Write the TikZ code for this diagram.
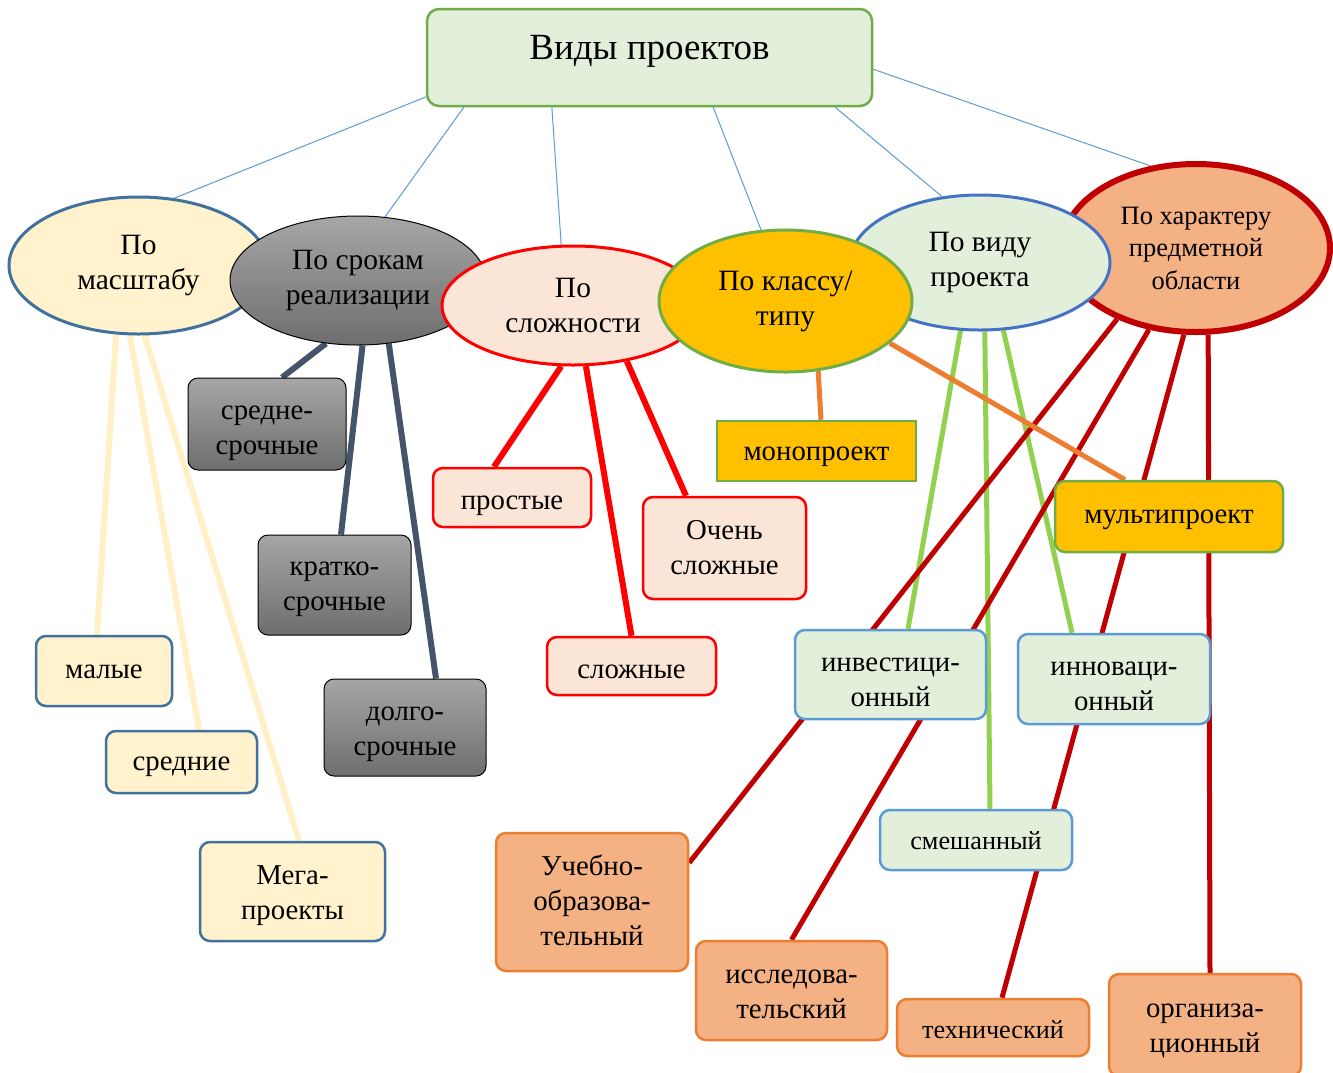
\documentclass[tikz,border=0pt]{standalone}
\usepackage{fontspec}
\setmainfont{Liberation Serif}
\usetikzlibrary{shapes.geometric,calc}
\pgfdeclarelayer{bg}
\pgfsetlayers{bg,main}
\definecolor{tgreenF}{HTML}{E2EFDA}
\definecolor{tgreenD}{HTML}{70AD47}
\definecolor{ylwF}{HTML}{FFF2CC}
\definecolor{ylwLine}{HTML}{FFF0C6}
\definecolor{steel}{HTML}{41719C}
\definecolor{slate}{HTML}{44546A}
\definecolor{grTop}{HTML}{A6A6A6}
\definecolor{grBot}{HTML}{6E6E6E}
\definecolor{pinkF}{HTML}{FBE5D6}
\definecolor{redD}{HTML}{FF0000}
\definecolor{goldF}{HTML}{FFC000}
\definecolor{orgD}{HTML}{ED7D31}
\definecolor{blueD}{HTML}{4472C4}
\definecolor{blueL}{HTML}{5B9BD5}
\definecolor{greenL}{HTML}{92D050}
\definecolor{salF}{HTML}{F4B183}
\definecolor{dred}{HTML}{C00000}
\newcommand\su[1]{\rule{0pt}{#1pt}}
\newcommand\txtdn{\rule[-0.2em]{0pt}{0pt}}
\begin{document}
\begin{tikzpicture}[x=1pt,y=-1pt,
  ell/.style={ellipse, align=center, inner sep=0pt, font=\fontsize{29.5}{35}\selectfont},
  box/.style={rectangle, rounded corners=10pt, align=center, inner sep=0pt, font=\fontsize{28.8}{35}\selectfont, line width=2.5pt,
    execute at end node=\txtdn},
  ybox/.style={box, draw=steel, fill=ylwF},
  gbox/.style={box, draw=black, line width=1pt, top color=grTop, bottom color=grBot},
  pbox/.style={box, draw=redD, fill=pinkF},
  obox/.style={box, draw=tgreenD, fill=goldF},
  vbox/.style={box, draw=blueL, fill=tgreenF},
  sbox/.style={box, draw=orgD, fill=salF},
  tline/.style={draw=blueL, line width=1pt},
  yline/.style={draw=ylwLine, line width=6pt},
  gline/.style={draw=slate, line width=6pt},
  rline/.style={draw=redD, line width=6pt},
  oline/.style={draw=orgD, line width=5pt},
  vline/.style={draw=greenL, line width=5pt},
  dline/.style={draw=dred, line width=5pt}]
\useasboundingbox (0,0) rectangle (1333,1072);

% title
\node[rectangle, rounded corners=12pt, draw=tgreenD, fill=tgreenF, line width=2.5pt,
  minimum width=445, minimum height=97, inner sep=0pt, text depth=20pt,
  font=\fontsize{37}{42}\selectfont] (t) at (649.5,57.5) {Виды проектов};

% ellipses (drawing order matters)
\node[ell, draw=steel, fill=ylwF, line width=3pt, minimum width=259, minimum height=137] (e1) at (138.5,265.5) {По\\масштабу};
\node[ell, draw=black, line width=1pt, top color=grTop, bottom color=grBot, minimum width=256, minimum height=129] (e2) at (358,280.5) {По срокам\\реализации};
\node[ell, draw=redD, fill=pinkF, line width=3pt, minimum width=262, minimum height=119] (e3) at (573,305.5) {По\\сложности};
\node[ell, draw=dred, fill=salF, line width=6pt, minimum width=268, minimum height=168, font=\fontsize{26.5}{32.5}\selectfont] (e6) at (1196,248) {По характеру\\предметной\\области};
\node[ell, draw=blueD, fill=tgreenF, line width=3pt, minimum width=260, minimum height=135] (e5) at (980,262.5) {По виду\\проекта};
\node[ell, draw=tgreenD, fill=goldF, line width=3pt, minimum width=253, minimum height=142] (e4) at (785.5,301) {По классу/\\типу};

% boxes
\node[ybox, minimum width=136, minimum height=70] (malye) at (104,671) {\su{20}малые};
\node[ybox, minimum width=151, minimum height=62] (sred) at (181.5,762) {\su{24}средние};
\node[ybox, minimum width=185, minimum height=99] (mega) at (292.5,891.5) {\su{27}Мега-\\проекты};

\node[gbox, minimum width=158, minimum height=92] (ss) at (267,424) {\su{33}средне-\\срочные};
\node[gbox, minimum width=153, minimum height=100] (ks) at (334.5,585) {\su{23}кратко-\\срочные};
\node[gbox, minimum width=162, minimum height=97] (ds) at (405,727.5) {\su{27}долго-\\срочные};

\node[pbox, minimum width=158, minimum height=59] (pr) at (512,497.5) {\su{30}простые};
\node[pbox, minimum width=163, minimum height=102] (os) at (724.5,548) {\su{23}Очень\\сложные};
\node[pbox, minimum width=169, minimum height=58] (sl) at (631.5,666) {\su{30}сложные};

\node[obox, rounded corners=0pt, minimum width=199, minimum height=60] (mono) at (816.5,451) {\su{26}монопроект};
\node[obox, minimum width=228, minimum height=71] (multi) at (1169,516.5) {\su{20}мультипроект};

\node[vbox, minimum width=191, minimum height=89] (inv) at (890.5,674.5) {\su{35}инвестици-\\онный};
\node[vbox, minimum width=192, minimum height=90] (inn) at (1114,679) {\su{33}инноваци-\\онный};
\node[vbox, minimum width=192, minimum height=60, font=\fontsize{26.2}{32}\selectfont] (sm) at (976,840) {\su{23.5}смешанный};

\node[sbox, minimum width=192, minimum height=138] (uch) at (592,902) {\su{23}Учебно-\\образова-\\тельный};
\node[sbox, minimum width=191, minimum height=99] (iss) at (791.5,990.5) {\su{27}исследова-\\тельский};
\node[sbox, minimum width=192, minimum height=57, font=\fontsize{26.2}{32}\selectfont] (tech) at (993,1027.5) {\su{27.5}технический};
\node[sbox, minimum width=192, minimum height=102] (org) at (1205,1025) {\su{25}организа-\\ционный};

\begin{pgfonlayer}{bg}
  \fill[white] (0,0) rectangle (1333,1072);
  \draw[tline] (t.190) -- (e1.62);
  \draw[tline] (t.195) -- (e2.67);
  \draw[tline] (t.207) -- (e3.101);
  \draw[tline] (t.322) -- (e4.109);
  \draw[tline] (t.345) -- (e5.120);
  \draw[tline] (t.357) -- (e6.119);

  \draw[yline] (e1.252) -- ($(malye.north)+(-7,0)$);
  \draw[yline] (e1.263) -- ($(sred.north)+(17.5,0)$);
  \draw[yline] (e1.275) -- ($(mega.north)+(6.5,0)$);

  \draw[gline] (e2.243) -- ($(ss.north)+(15,0)$);
  \draw[gline] (e2.274) -- ($(ks.north)+(6.5,0)$);
  \draw[gline] (e2.296) -- ($(ds.north)+(31,0)$);

  \draw[rline] (e3.259) -- ($(pr.north)+(-18,0)$);
  \draw[rline] (e3.282) -- (sl.north);
  \draw[rline] (e3.314) -- ($(os.north)+(-38.5,0)$);

  \draw[vline] (e5.254) -- ($(inv.north)+(17.5,0)$);
  \draw[vline] (e5.274) -- ($(sm.north)+(14,0)$);
  \draw[vline] (e5.289) -- ($(inn.north)+(-42,0)$);

  \draw[dline] (e6.222) -- ($(uch.north east)+(0,31)$);
  \draw[dline] (e6.240) -- (iss.north);
  \draw[dline] (e6.262) -- ($(tech.north)+(9,0)$);
  \draw[dline] (e6.278) -- ($(org.north)+(5,0)$);

  \draw[oline] (e4.295) -- ($(mono.north)+(4.5,0)$);
  \draw[oline] (e4.338) -- ($(multi.north)+(-44,0)$);
\end{pgfonlayer}
\end{tikzpicture}
\end{document}
